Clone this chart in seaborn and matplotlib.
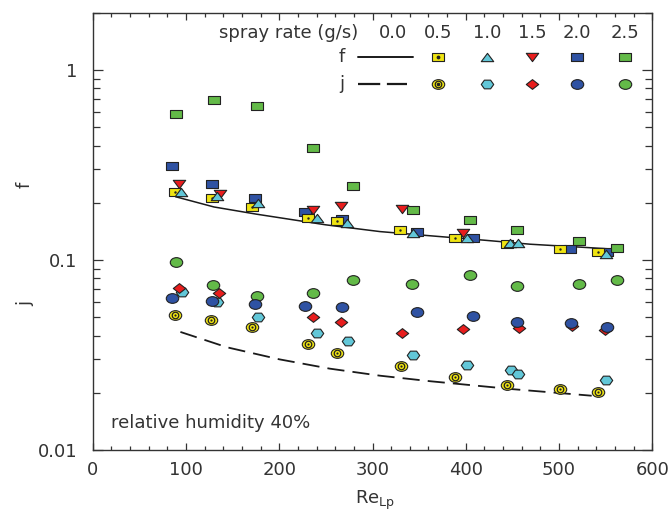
import numpy as np
import pandas as pd
import matplotlib
matplotlib.use("Agg")
import matplotlib.pyplot as plt
import seaborn as sns
from matplotlib.path import Path
from matplotlib.markers import MarkerStyle
from matplotlib.ticker import MultipleLocator, LogLocator, FixedLocator, FixedFormatter, NullFormatter

# ---------------- data ----------------
spray_rates = ["0.0", "0.5", "1.0", "1.5", "2.0", "2.5"]

# friction factor f
re_f_05 = [88, 128, 171, 231, 262, 329, 388, 444, 501, 542]
f_05 = [0.229, 0.213, 0.191, 0.167, 0.161, 0.1445, 0.131, 0.122, 0.1135, 0.1095]
re_f_10 = [95, 133, 177, 240, 273, 343, 401, 447, 456, 550]
f_10 = [0.229, 0.218, 0.200, 0.167, 0.157, 0.139, 0.130, 0.1235, 0.1235, 0.108]
re_f_15 = [92, 136, 236, 266, 332, 397]
f_15 = [0.252, 0.221, 0.184, 0.193, 0.186, 0.138]
re_f_20 = [85, 128, 174, 228, 267, 348, 408, 512, 551]
f_20 = [0.313, 0.252, 0.213, 0.178, 0.165, 0.141, 0.131, 0.1145, 0.1095]
re_f_25 = [89, 130, 176, 236, 279, 343, 404, 455, 521, 562]
f_25 = [0.588, 0.696, 0.647, 0.390, 0.246, 0.184, 0.163, 0.1445, 0.1265, 0.115]

# Colburn factor j
re_j_05 = [88, 127, 171, 231, 262, 330, 388, 444, 501, 542]
j_05 = [0.0511, 0.0481, 0.0442, 0.036, 0.0323, 0.0276, 0.0242, 0.0219, 0.0209, 0.0202]
re_j_10 = [96, 133, 177, 240, 274, 343, 401, 449, 456, 550]
j_10 = [0.0675, 0.0598, 0.0499, 0.0411, 0.0373, 0.0315, 0.0279, 0.0263, 0.0251, 0.0233]
re_j_15 = [92, 135, 236, 266, 332, 397, 457, 514, 549]
j_15 = [0.0709, 0.0667, 0.0499, 0.047, 0.0411, 0.0432, 0.0437, 0.0448, 0.0427]
re_j_20 = [85, 128, 174, 228, 267, 348, 408, 455, 513, 551]
j_20 = [0.0628, 0.0605, 0.0584, 0.057, 0.0563, 0.053, 0.0505, 0.047, 0.0464, 0.0442]
re_j_25 = [89, 129, 176, 236, 279, 342, 404, 455, 521, 562]
j_25 = [0.098, 0.0735, 0.0643, 0.0667, 0.078, 0.0744, 0.083, 0.0726, 0.0744, 0.078]

# dry-surface curves (spray rate 0.0)
re_f_line = [89, 130, 176, 250, 308, 362, 420, 469, 520, 565]
f_line = [0.215, 0.190, 0.174, 0.153, 0.141, 0.134, 0.127, 0.121, 0.117, 0.1135]
re_j_line = [94, 144, 200, 254, 308, 362, 450, 535]
j_line = [0.0418, 0.0347, 0.0300, 0.0268, 0.0246, 0.0230, 0.0209, 0.0193]

# ---------------- style ----------------
sns.set_style("ticks")
plt.rcParams["font.family"] = ["DejaVu Sans"]
plt.rcParams["mathtext.fontset"] = "dejavusans"

YEL, CYA, RED, BLU, GRN = "#efe412", "#62c7d8", "#e81d1d", "#2f52a3", "#63ba48"
EDGE = "#222222"
TXT = "#333333"
FS = 13


def mk(verts):
    verts = np.asarray(verts, float)
    codes = [Path.MOVETO] + [Path.LINETO] * (len(verts) - 1) + [Path.CLOSEPOLY]
    verts = np.vstack([verts, verts[:1]])
    return MarkerStyle(Path(verts, codes))


def ellipse(sx):
    c = Path.unit_circle()
    return MarkerStyle(Path(c.vertices * [sx, 1.0], c.codes))


M_SQ = mk([(-0.72, -0.5), (0.72, -0.5), (0.72, 0.5), (-0.72, 0.5)])
M_TU = mk([(0, 0.5), (0.75, -0.5), (-0.75, -0.5)])
M_TD = mk([(0, -0.5), (0.75, 0.5), (-0.75, 0.5)])
M_DI = mk([(0, 0.5), (0.64, 0), (0, -0.5), (-0.64, 0)])
hx = [(np.cos(a) * 0.62, np.sin(a) * 0.5) for a in np.deg2rad(np.arange(0, 360, 60))]
M_HX = mk(hx)
M_EL = ellipse(1.28)

S = 80  # marker area (pt^2)

fig = plt.figure(figsize=(6.72, 5.18), dpi=100)
ax = fig.add_axes([0.138, 0.1313, 0.8327, 0.8442])


def scat(x, y, marker, color, z, s=S, lw=0.8, ec=EDGE):
    sns.scatterplot(x=x, y=y, marker=marker, s=s, color=color, edgecolor=ec,
                    linewidth=lw, zorder=z, ax=ax, legend=False, clip_on=False)


# lines
sns.lineplot(x=re_f_line, y=f_line, color="#1a1a1a", linewidth=1.1, ax=ax,
             estimator=None, sort=False, zorder=2)
sns.lineplot(x=re_j_line, y=j_line, color="#1a1a1a", linewidth=1.3, ax=ax,
             estimator=None, sort=False, zorder=2, dashes=False)
ax.lines[-1].set_dashes([9.5, 4.5])

# f markers
scat(re_f_20, f_20, M_SQ, BLU, 3)
scat(re_f_25, f_25, M_SQ, GRN, 3)
scat(re_f_15, f_15, M_TD, RED, 4)
scat(re_f_05, f_05, M_SQ, YEL, 5)
scat(re_f_05, f_05, "o", EDGE, 5.1, s=3, lw=0)
scat(re_f_10, f_10, M_TU, CYA, 6)

# j markers
scat(re_j_25, j_25, M_EL, GRN, 3)
scat(re_j_05, j_05, M_EL, YEL, 3)
scat(re_j_05, j_05, "o", YEL, 3.1, s=22, lw=0.9)
scat(re_j_05, j_05, "o", EDGE, 3.2, s=2.5, lw=0)
scat(re_j_10, j_10, M_HX, CYA, 3)
scat(re_j_15, j_15, M_DI, RED, 4)
scat(re_j_20, j_20, M_EL, BLU, 5)

# ---------------- axes ----------------
ax.set_yscale("log")
ax.set_xlim(0, 600)
ax.set_ylim(0.01, 2.0)
ax.xaxis.set_major_locator(MultipleLocator(100))
ax.xaxis.set_minor_locator(MultipleLocator(20))
ax.yaxis.set_major_locator(FixedLocator([0.01, 0.1, 1]))
ax.yaxis.set_major_formatter(FixedFormatter(["0.01", "0.1", "1"]))
ax.yaxis.set_minor_locator(LogLocator(base=10, subs=np.arange(2, 10)))
ax.yaxis.set_minor_formatter(NullFormatter())
ax.set_xlabel("")
ax.set_ylabel("")
ax.tick_params(which="both", direction="in", top=True, right=True,
               colors=TXT, labelsize=FS, width=0.9)
ax.tick_params(axis="x", which="major", length=5, pad=8)
ax.tick_params(axis="x", which="minor", length=3)
ax.tick_params(axis="y", which="major", length=7, pad=11)
ax.tick_params(axis="y", which="minor", length=5)
for sp in ax.spines.values():
    sp.set_color(TXT)
    sp.set_linewidth(1.0)

# ---------------- legend (manual, as in reference) ----------------
def ax_xy(px, py):
    return ((px - 92.7) / 559.6, (450 - py) / 437.3)

col_px = [393, 438, 487, 532, 577, 625]
hx_, hy_ = ax_xy(289, 33)
ax.text(hx_, hy_, "spray rate (g/s)", transform=ax.transAxes, ha="center",
        va="center", fontsize=FS, color=TXT)
for lab, px in zip(spray_rates, col_px):
    x_, y_ = ax_xy(px, 33)
    ax.text(x_, y_, lab, transform=ax.transAxes, ha="center", va="center",
            fontsize=FS, color=TXT)

for row, py in (("f", 57), ("j", 84)):
    x_, y_ = ax_xy(342, py)
    ax.text(x_, y_, row, transform=ax.transAxes, ha="center", va="center",
            fontsize=FS, color=TXT)

x0, yf = ax_xy(358, 57)
x1, _ = ax_xy(413, 57)
ax.plot([x0, x1], [yf, yf], color="#1a1a1a", lw=1.4, transform=ax.transAxes,
        clip_on=False)
x0, yj = ax_xy(358, 84)
x1, _ = ax_xy(407, 84)
ax.plot([x0, x1], [yj, yj], color="#1a1a1a", lw=1.6, transform=ax.transAxes,
        clip_on=False, dashes=[10, 3])

f_marks = [(M_SQ, YEL), (M_TU, CYA), (M_TD, RED), (M_SQ, BLU), (M_SQ, GRN)]
j_marks = [(M_EL, YEL), (M_HX, CYA), (M_DI, RED), (M_EL, BLU), (M_EL, GRN)]
for (m, c), px in zip(f_marks, col_px[1:]):
    x_, y_ = ax_xy(px, 57)
    ax.scatter([x_], [y_], marker=m, s=S, color=c, edgecolor=EDGE, linewidth=0.8,
               transform=ax.transAxes, clip_on=False, zorder=6)
for (m, c), px in zip(j_marks, col_px[1:]):
    x_, y_ = ax_xy(px, 84)
    ax.scatter([x_], [y_], marker=m, s=S, color=c, edgecolor=EDGE, linewidth=0.8,
               transform=ax.transAxes, clip_on=False, zorder=6)
x_, y_ = ax_xy(col_px[1], 57)
ax.scatter([x_], [y_], marker="o", s=3, color=EDGE, transform=ax.transAxes, zorder=7)
x_, y_ = ax_xy(col_px[1], 84)
ax.scatter([x_], [y_], marker="o", s=22, color=YEL, edgecolor=EDGE, linewidth=0.9,
           transform=ax.transAxes, zorder=7)
ax.scatter([x_], [y_], marker="o", s=2.5, color=EDGE, transform=ax.transAxes, zorder=8)

# annotation
x_, y_ = ax_xy(111, 423)
ax.text(x_, y_, "relative humidity 40%", transform=ax.transAxes, ha="left",
        va="center", fontsize=FS, color=TXT)

# axis labels
fig.text(25 / 672, 1 - 185 / 518, "f", rotation=90, ha="center", va="center",
         fontsize=FS, color=TXT)
fig.text(25 / 672, 1 - 303 / 518, "j", rotation=90, ha="center", va="center",
         fontsize=FS, color=TXT)
fig.text(375 / 672, 1 - 500 / 518, r"Re$_{\mathrm{Lp}}$", ha="center",
         va="center", fontsize=FS, color=TXT)

fig.savefig("out.png", dpi=100)
